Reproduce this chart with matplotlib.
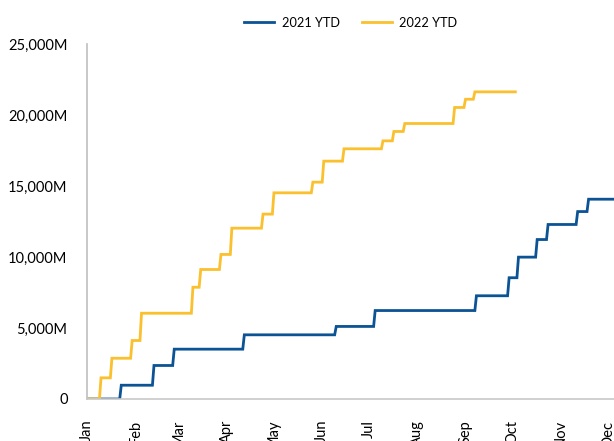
import matplotlib
matplotlib.use("Agg")
import matplotlib.pyplot as plt
from matplotlib.ticker import FuncFormatter
import pandas as pd

# Cumulative totals (millions) after each step, keyed by month-day
ytd_2021_dates = ["01-01", "01-23", "02-13", "02-26", "04-12", "06-10", "07-05",
                  "09-08", "09-29", "10-05", "10-17", "10-24", "11-12", "11-19"]
ytd_2021_values = [0, 970, 2360, 3510, 4520, 5110, 6230,
                   7270, 8540, 9990, 11230, 12290, 13200, 14070]
ytd_2021_end = "12-31"

ytd_2022_dates = ["01-01", "01-10", "01-17", "01-30", "02-05", "03-10", "03-15",
                  "03-28", "04-04", "04-24", "05-01", "05-26", "06-02", "06-15",
                  "07-10", "07-17", "07-24", "08-25", "09-01", "09-07"]
ytd_2022_values = [0, 1490, 2870, 4120, 6040, 7870, 9120,
                   10180, 12030, 13020, 14520, 15270, 16750, 17620,
                   18180, 18840, 19400, 20530, 21110, 21630]
ytd_2022_end = "10-03"

month_labels = ["Jan", "Feb", "Mar", "Apr", "May", "Jun",
                "Jul", "Aug", "Sep", "Oct", "Nov", "Dec"]

BASE_YEAR = 2022  # common calendar so both years share one month axis


def daily_series(dates, values, end):
    """Expand step events into a daily running total."""
    idx = pd.to_datetime([f"{BASE_YEAR}-{d}" for d in dates])
    s = pd.Series(values, index=idx)
    days = pd.date_range(idx[0], pd.Timestamp(f"{BASE_YEAR}-{end}"), freq="D")
    return s.reindex(days).ffill()


s2021 = daily_series(ytd_2021_dates, ytd_2021_values, ytd_2021_end)
s2022 = daily_series(ytd_2022_dates, ytd_2022_values, ytd_2022_end)

plt.rcParams["font.family"] = ["Lato", "DejaVu Sans"]

fig = plt.figure(figsize=(6.14, 4.41), dpi=100)
W, H = 614, 441
left, right, top, bottom = 87, 654, 44, 399
ax = fig.add_axes([left / W, (H - bottom) / H, (right - left) / W, (bottom - top) / H])

blue = "#0B5394"
yellow = "#FAC02E"
ax.plot(s2021.index, s2021.values, color=blue, lw=2.0, label="2021 YTD", solid_joinstyle="miter")
ax.plot(s2022.index, s2022.values, color=yellow, lw=2.0, label="2022 YTD", solid_joinstyle="miter")

ax.set_xlim(pd.Timestamp(f"{BASE_YEAR}-01-01"), pd.Timestamp(f"{BASE_YEAR}-12-31"))
ax.set_ylim(0, 25000)

month_starts = pd.date_range(f"{BASE_YEAR}-01-01", periods=12, freq="MS")
ax.set_xticks(month_starts)
ax.set_xticklabels(month_labels, rotation=90, ha="center", va="top")
ax.set_yticks(range(0, 25001, 5000))
ax.yaxis.set_major_formatter(FuncFormatter(lambda v, _: "0" if v == 0 else f"{v:,.0f}M"))

ax.tick_params(axis="both", length=0, labelsize=10.5, colors="#000000")
ax.tick_params(axis="x", pad=15)
ax.tick_params(axis="y", pad=14)

for side in ("top", "right"):
    ax.spines[side].set_visible(False)
ax.spines["left"].set_color("#BFBFBF")
ax.spines["bottom"].set_color("#C8C8C8")
ax.spines["left"].set_linewidth(1.2)
ax.spines["bottom"].set_linewidth(1.2)

fig.legend(loc="center", bbox_to_anchor=(351 / W, 1 - 22.7 / H), ncol=2, frameon=False,
           fontsize=9.2, handlelength=2.35, columnspacing=1.7, handletextpad=0.6)

fig.savefig("out.png", dpi=100)
